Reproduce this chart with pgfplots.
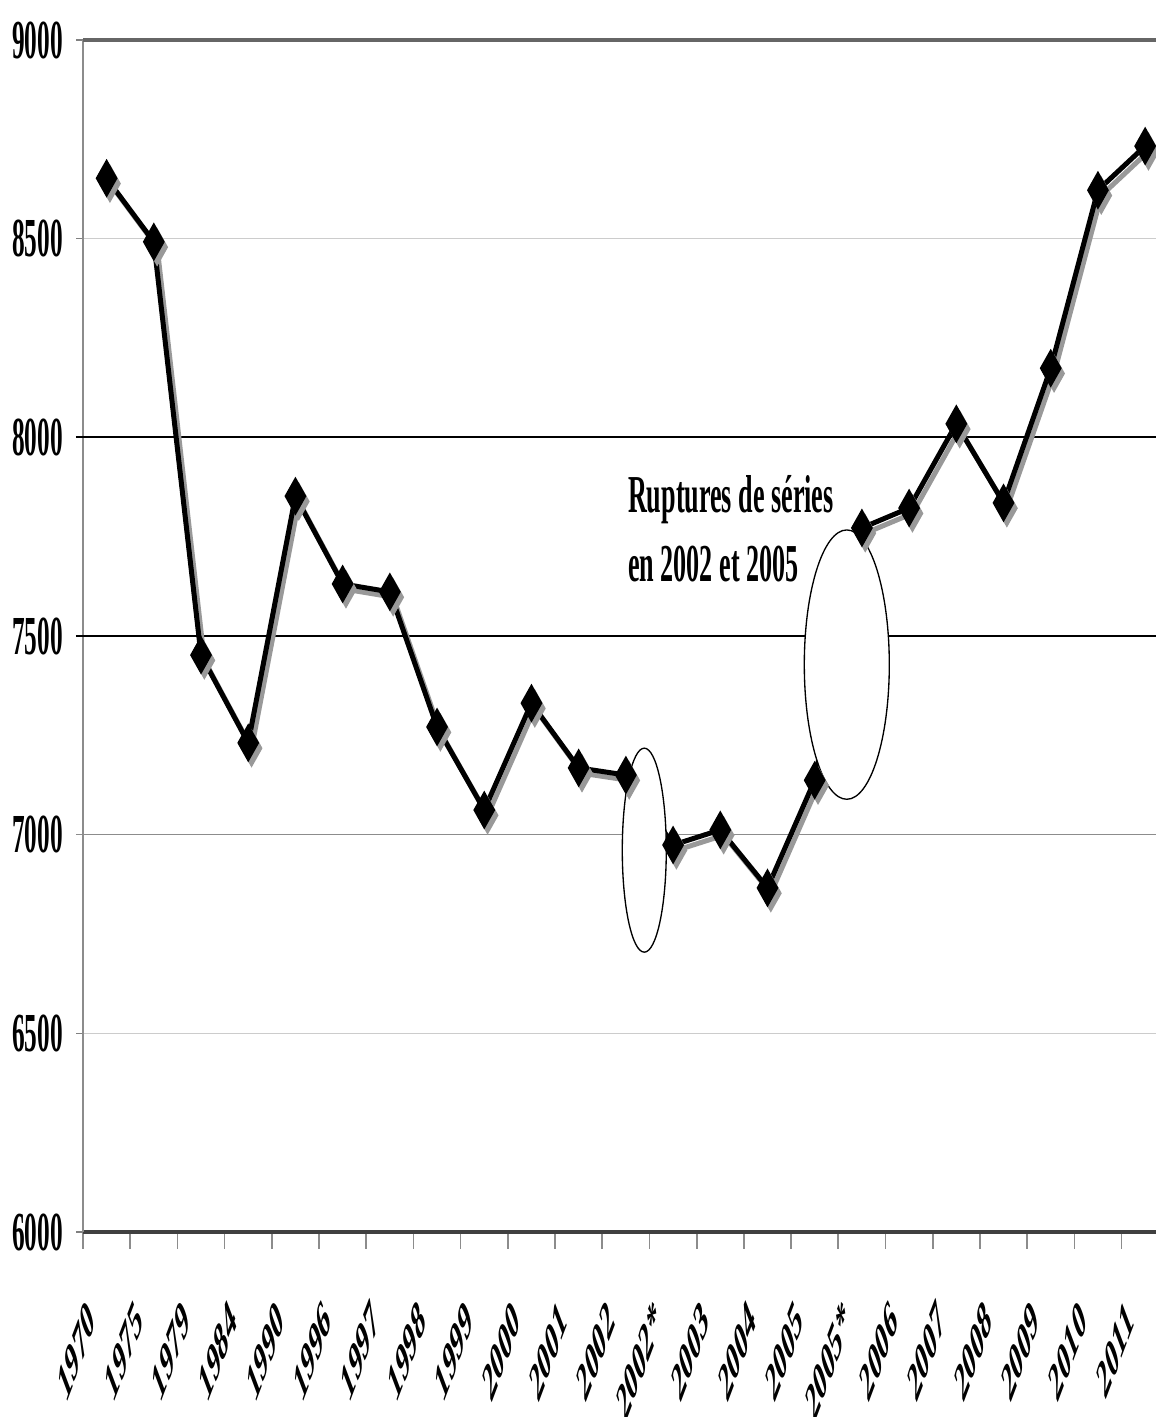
\documentclass[border=0pt]{standalone}
\usepackage{fontspec}
\setmainfont{Liberation Serif}
\usepackage{pgfplots}
\usepackage{pgfplotstable}
\pgfplotsset{compat=1.18}

\pgfplotstableread{
x y
0 8652
1 8492
2 7452
3 7231
4 7852
5 7631
6 7611
7 7271
8 7062
9 7331
10 7168
11 7150
12 6974
13 7012
14 6866
15 7137
16 7772
17 7822
18 8034
19 7835
20 8174
21 8622
22 8733
}\data

\begin{document}
\begin{tikzpicture}
\useasboundingbox (-24.9pt,-55.5pt) rectangle (321.9pt,369.6pt);
\begin{axis}[
    at={(0,0)}, anchor=south west,
    scale only axis,
    width=321.9pt, height=357.6pt,
    xmin=-0.5, xmax=22.23,
    ymin=6000, ymax=9000,
    axis lines*=left,
    x axis line style={line width=1.2pt, draw=black!75},
    y axis line style={line width=0.6pt, draw=black!45},
    ytick={6000,6500,...,9000},
    ymajorgrids,
    grid style={draw=black!20, line width=0.5pt},
    tick align=outside,
    ytick style={draw=black!50, line width=0.5pt},
    major tick length=2pt,
    xtick={0,...,22},
    xticklabels={1970,1975,1979,1984,1990,1996,1997,1998,1999,2000,2001,2002,2002*,2003,2004,2005,2005*,2006,2007,2008,2009,2010,2011},
    x tick style={draw=none},
    minor xtick={-0.5,0.5,...,21.5},
    minor tick length=5pt,
    minor x tick style={draw=black!45, line width=0.5pt},
    /pgf/number format/assume math mode=true,
    /pgf/number format/1000 sep={},
    yticklabel style={xshift=-4pt, xscale=0.46, anchor=east, inner sep=0pt,
        font=\bfseries\fontsize{16.5}{17}\selectfont},
    xticklabel style={xshift=-4.5pt, yshift=-21.5pt, cm={0.265,0.7071,-0.265,0.7071,(0,0)},
        anchor=east, inner sep=0pt,
        font=\bfseries\fontsize{17}{18}\selectfont},
    clip=false,
]
% darker grid lines
\draw[black!60, line width=1pt] (axis cs:-0.5,9000) -- (axis cs:22.23,9000);
\draw[black, line width=0.6pt] (axis cs:-0.65,8000) -- (axis cs:22.23,8000);
\draw[black, line width=0.6pt] (axis cs:-0.65,7500) -- (axis cs:22.23,7500);
\draw[black!45, line width=0.5pt] (axis cs:-0.65,7000) -- (axis cs:22.23,7000);

% shadow
\addplot[black!40, line width=1.5pt, mark=diamond*, mark size=4.3pt,
    mark options={xscale=0.75, fill=black!40, draw=black!40},
    xshift=1pt, yshift=-1.6pt] table[x=x, y=y] {\data};
% series
\addplot[black, line width=1.5pt, mark=diamond*, mark size=4.3pt,
    mark options={xscale=0.75, fill=black}] table[x=x, y=y] {\data};

% series breaks
\draw[black, line width=0.4pt, fill=white] (axis cs:11.39,6961) ellipse [x radius=6.6pt, y radius=30.6pt];
\draw[black, line width=0.4pt, fill=white] (axis cs:15.68,7428) ellipse [x radius=12.75pt, y radius=40.4pt];

\node[anchor=base west, inner sep=0pt, xscale=0.49, font=\bfseries\fontsize{16}{17}\selectfont]
    at (axis cs:11.04,7812) {Ruptures de séries};
\node[anchor=base west, inner sep=0pt, xscale=0.49, font=\bfseries\fontsize{16}{17}\selectfont]
    at (axis cs:11.04,7636) {en 2002 et 2005};
\end{axis}
\end{tikzpicture}
\end{document}
